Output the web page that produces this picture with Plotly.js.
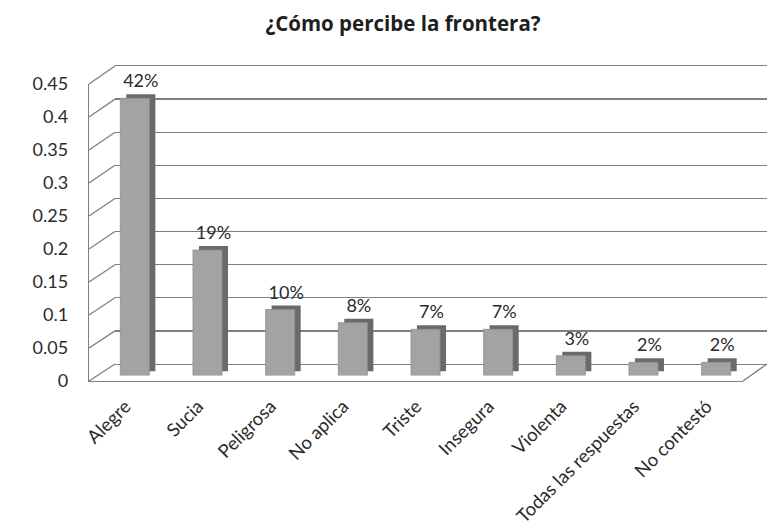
<!DOCTYPE html>
<html>
<head>
<meta charset="utf-8">
<script src="https://cdn.plot.ly/plotly-3.0.1.min.js"></script>
<style>html,body{margin:0;padding:0;background:#fff}#chart{width:768px;height:530px}</style>
</head>
<body>
<div id="chart"></div>
<script>
// ---- data ----
const categories = ['Alegre', 'Sucia', 'Peligrosa', 'No aplica', 'Triste', 'Insegura', 'Violenta', 'Todas las respuestas', 'No contestó'];
const shares = [0.42, 0.19, 0.10, 0.08, 0.07, 0.07, 0.03, 0.02, 0.02];
const yTickVals = [0, 0.05, 0.1, 0.15, 0.2, 0.25, 0.3, 0.35, 0.4, 0.45];
const yTickText = ['0', '0.05', '0.1', '0.15', '0.2', '0.25', '0.3', '0.35', '0.4', '0.45'];
const titleText = '¿Cómo percibe la frontera?';

// ---- geometry (pixels) ----
const W = 768, H = 530;
const fx = p => p / W;
const fy = p => 1 - p / H;
const yMax = 0.45;
// front plane (axis labels), bar front faces, bar back faces, back wall
const planes = {
  front: { x0: 89,    x1: 743,   y0: 381,   yTop: 84 },
  faceF: { x0: 98.5,  x1: 752.5, y0: 375.5, yTop: 78.5 },
  faceB: { x0: 104.5, x1: 758.5, y0: 371.5, yTop: 74.5 },
  wall:  { x0: 115,   x1: 767,   y0: 364,   yTop: 66 }
};
const dom = p => ({ x: [fx(p.x0), fx(p.x1)], y: [fy(p.y0), fy(p.yTop)] });

const FONT = 'Lato, "Open Sans", sans-serif';
const LINE = '#7f7f7f';

const catAxis = (p, extra) => Object.assign({
  domain: dom(p).x, type: 'category', range: [-0.5, categories.length - 0.5],
  showgrid: false, zeroline: false, showticklabels: false, ticks: '', fixedrange: true
}, extra || {});
const valAxis = (p, anchor, extra) => Object.assign({
  domain: dom(p).y, range: [0, yMax], anchor: anchor,
  showgrid: false, zeroline: false, showticklabels: false, ticks: '', fixedrange: true,
  tickvals: yTickVals
}, extra || {});

const traces = [
  // back wall placeholder (keeps subplot xy alive)
  { type: 'bar', x: categories, y: shares.map(() => 0), xaxis: 'x', yaxis: 'y',
    marker: { color: 'rgba(0,0,0,0)' }, hoverinfo: 'skip', showlegend: false },
  // side / top faces of the bars (shifted back)
  { type: 'bar', x: categories, y: shares, xaxis: 'x2', yaxis: 'y2', width: 0.4,
    marker: { color: '#6a6a6a', line: { width: 0 } },
    text: shares.map(v => Math.round(v * 100) + '%'), textposition: 'outside',
    constraintext: 'none', cliponaxis: false,
    textfont: { family: FONT, size: 18, color: '#2b2b2b' },
    hoverinfo: 'skip', showlegend: false },
  // front faces
  { type: 'bar', x: categories, y: shares, xaxis: 'x3', yaxis: 'y3', width: 0.4,
    marker: { color: '#a3a3a3', line: { width: 0.8, color: '#8f8f8f' } },
    cliponaxis: false, hoverinfo: 'skip', showlegend: false },
  // front axis (labels)
  { type: 'bar', x: categories, y: shares.map(() => 0), xaxis: 'x4', yaxis: 'y4',
    marker: { color: 'rgba(0,0,0,0)' }, hoverinfo: 'skip', showlegend: false }
];

// left wall diagonals and floor right edge
const shapes = yTickVals.map(v => {
  const f = planes.front, w = planes.wall;
  const yf = f.y0 - (v / yMax) * (f.y0 - f.yTop);
  const yb = w.y0 - (v / yMax) * (w.y0 - w.yTop);
  return { type: 'line', xref: 'paper', yref: 'paper', layer: 'below',
    x0: fx(f.x0), y0: fy(yf), x1: fx(w.x0), y1: fy(yb),
    line: { color: LINE, width: 1.3 } };
});
shapes.push({ type: 'line', xref: 'paper', yref: 'paper', layer: 'below',
  x0: fx(planes.front.x1), y0: fy(planes.front.y0), x1: fx(planes.wall.x1), y1: fy(planes.wall.y0),
  line: { color: LINE, width: 1.3 } });

const layout = {
  width: W, height: H,
  margin: { l: 0, r: 0, t: 0, b: 0, pad: 0 },
  paper_bgcolor: '#ffffff', plot_bgcolor: 'rgba(0,0,0,0)',
  showlegend: false, barmode: 'overlay',
  font: { family: FONT, color: '#2b2b2b' },
  title: { text: '<b>' + titleText + '</b>', x: fx(403), xanchor: 'center', xref: 'paper',
    y: fy(24), yanchor: 'middle', yref: 'paper',
    font: { family: '"Open Sans", Lato, sans-serif', size: 20.5, color: '#1e1e1e' } },
  xaxis: catAxis(planes.wall, { anchor: 'y', showline: true, mirror: true, linecolor: LINE, linewidth: 1.3 }),
  yaxis: valAxis(planes.wall, 'x', { showgrid: true, gridcolor: LINE, gridwidth: 1.3 }),
  xaxis2: catAxis(planes.faceB, { anchor: 'y2' }),
  yaxis2: valAxis(planes.faceB, 'x2'),
  xaxis3: catAxis(planes.faceF, { anchor: 'y3' }),
  yaxis3: valAxis(planes.faceF, 'x3'),
  xaxis4: catAxis(planes.front, { anchor: 'y4', showticklabels: true, tickangle: -45,
    showline: true, linecolor: LINE, linewidth: 1.3, ticklabelstandoff: 6,
    tickfont: { family: FONT, size: 18.5, color: '#2b2b2b' }, automargin: false }),
  yaxis4: valAxis(planes.front, 'x4', { showticklabels: true, ticktext: yTickText,
    showline: true, linecolor: LINE, linewidth: 1.3, ticklabelstandoff: 16,
    tickfont: { family: FONT, size: 18, color: '#2b2b2b' }, automargin: false }),
  shapes: shapes
};

Plotly.newPlot('chart', traces, layout, { displayModeBar: false, staticPlot: true });
</script>
</body>
</html>
